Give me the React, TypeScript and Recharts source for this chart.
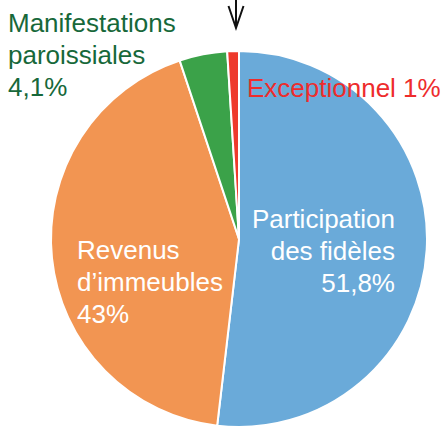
import React from "react";
import { PieChart, Pie, Cell } from "recharts";

const categories = ["Participation des fidèles", "Revenus d’immeubles", "Manifestations paroissiales", "Exceptionnel"];
const values = [51.8, 43, 4.1, 1];
const valueLabels = ["51,8%", "43%", "4,1%", "1%"];
const labelLines = [
  ["Participation", "des fidèles", "51,8%"],
  ["Revenus", "d’immeubles", "43%"],
  ["Manifestations", "paroissiales", "4,1%"],
  ["Exceptionnel 1%"],
];
const colors = ["#6aaad9", "#f29552", "#3ba249", "#ee3a2c"];
const textColors = ["#ffffff", "#ffffff", "#17683a", "#ee2c2c"];

const data = categories.map((name, i) => ({ name, value: values[i], label: valueLabels[i] }));

const FONT = "'Liberation Sans', Arial, sans-serif";

const layouts = [
  { dx: 156, dy: -11, anchor: "end" },
  { dx: -162, dy: 20, anchor: "start" },
  { dx: -231, dy: -207, anchor: "start" },
  { dx: 8, dy: -142, anchor: "start" },
];
const LINE_H = 32;

const renderLabel = (props: any) => {
  const { cx, cy, index, outerRadius } = props;
  const l = layouts[index];
  const lines = labelLines[index];
  const top = cy - outerRadius;
  const ax = cx - 3;
  return (
    <g key={`lbl-${index}`}>
      <text
        x={cx + l.dx}
        y={cy + l.dy}
        textAnchor={l.anchor}
        fill={textColors[index]}
        fontFamily={FONT}
        fontSize={26}
      >
        {lines.map((t, j) => (
          <tspan key={j} x={cx + l.dx} y={cy + l.dy + j * LINE_H}>
            {t}
          </tspan>
        ))}
      </text>
      {index === 3 && (
        <g stroke="#111" strokeWidth={2} fill="none" strokeLinejoin="miter">
          <line x1={ax} y1={top - 52} x2={ax} y2={top - 24} />
          <polyline points={`${ax - 7.5},${top - 45} ${ax},${top - 23} ${ax + 7.5},${top - 45}`} />
        </g>
      )}
    </g>
  );
};

export default function App() {
  return (
    <div style={{ position: "absolute", left: 0, top: 0, width: 445, height: 427, background: "#fff" }}>
      <PieChart width={445} height={427} margin={{ top: 0, right: 0, bottom: 0, left: 0 }}>
        <Pie
          data={data}
          dataKey="value"
          nameKey="name"
          cx={239}
          cy={239}
          outerRadius={188}
          startAngle={90}
          endAngle={-270}
          stroke="#ffffff"
          strokeWidth={2}
          label={renderLabel}
          labelLine={false}
          isAnimationActive={false}
        >
          {data.map((d, i) => (
            <Cell key={d.name} fill={colors[i]} />
          ))}
        </Pie>
      </PieChart>
    </div>
  );
}
